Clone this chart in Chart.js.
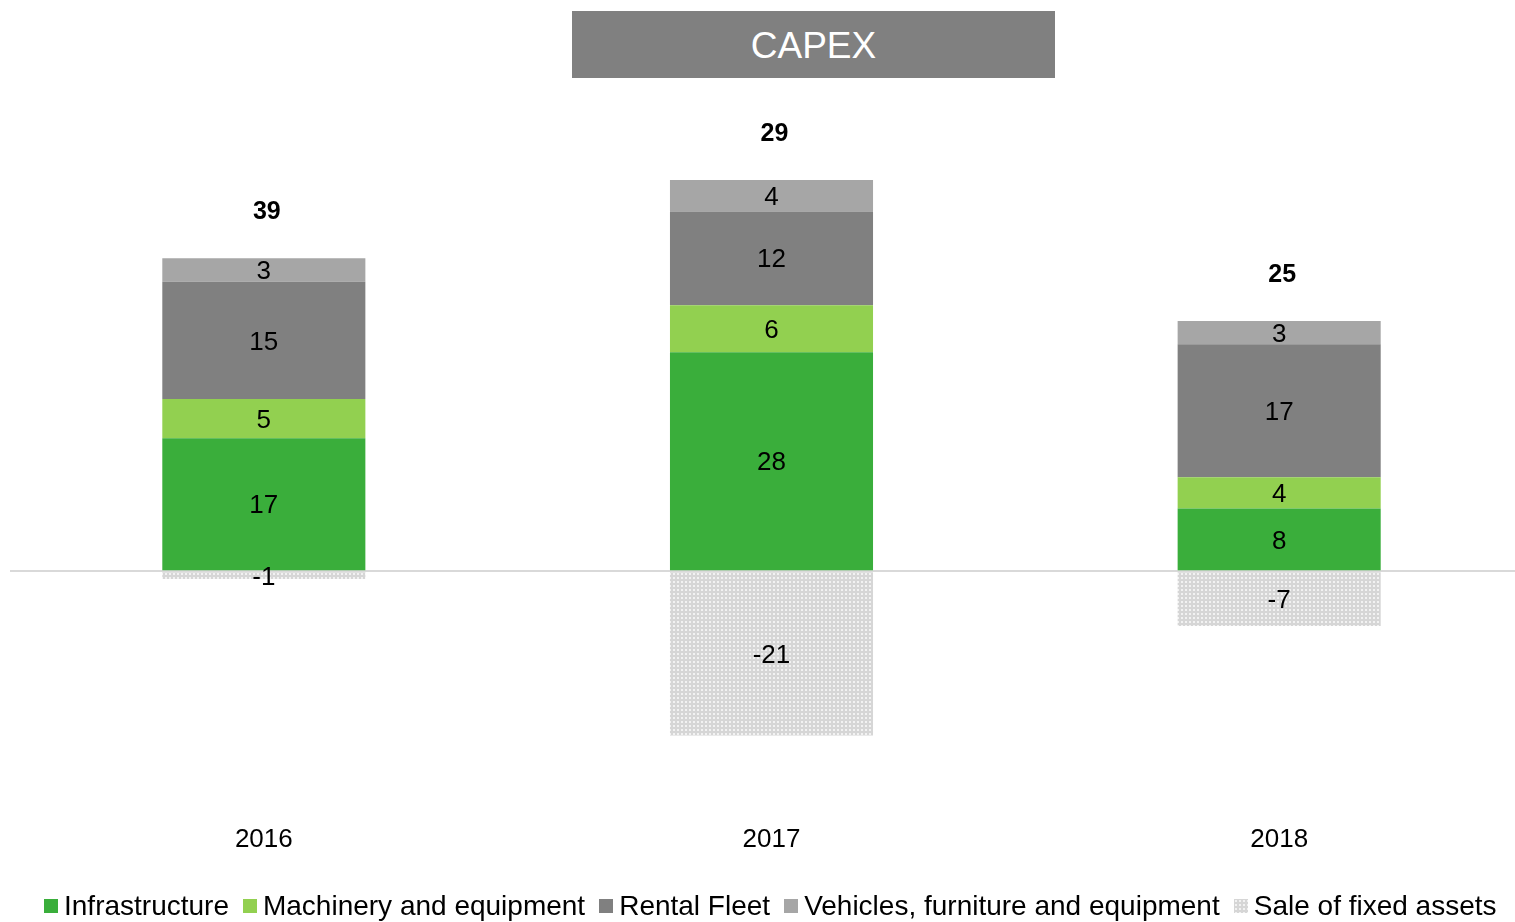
<!DOCTYPE html>
<html>
<head>
<meta charset="utf-8">
<script src="https://cdn.jsdelivr.net/npm/chart.js@4.4.1/dist/chart.umd.min.js"></script>
<style>
    html, body { margin: 0; padding: 0; overflow: hidden; background: #fff; }
    #wrap { position: relative; width: 1535px; height: 922px; }
    #titulo {
        position: absolute; left: 572px; top: 11px; width: 483px; height: 67px;
        background: #808080; color: #fff; font-family: "Liberation Sans", Arial, sans-serif;
        font-size: 37px; line-height: 69px; text-align: center;
    }
    #leyenda {
        position: absolute; left: 44px; top: 891px; height: 30px; white-space: nowrap;
        font-family: "Liberation Sans", Arial, sans-serif; font-size: 28px; line-height: 30px;
        display: flex; align-items: center;
    }
    #leyenda .item { display: flex; align-items: center; margin-right: 14px; }
    #leyenda .caja { width: 14px; height: 14px; margin-right: 6px; }
</style>
</head>
<body>
<div id="wrap">
    <canvas id="myChart" width="1535" height="922"></canvas>
    <div id="titulo">CAPEX</div>
    <div id="leyenda"></div>
</div>
<script>
const years = ['2016', '2017', '2018'];
const infrastructure = [17, 28, 8];
const machinery = [5, 6, 4];
const rentalFleet = [15, 12, 17];
const vehicles = [3, 4, 3];
const saleOfAssets = [-1, -21, -7];
const totals = [39, 29, 25];

const FONT = '"Liberation Sans", Arial, sans-serif';

// patron punteado para "Sale of fixed assets"
const tile = document.createElement('canvas');
tile.width = 4;
tile.height = 4;
const tctx = tile.getContext('2d');
tctx.fillStyle = '#d6d6d6';
tctx.fillRect(0, 0, 4, 4);
tctx.fillStyle = '#f2f2f2';
tctx.fillRect(1, 1, 2, 2);
const dotted = tctx.createPattern(tile, 'repeat');

// etiquetas dentro de cada segmento + totales arriba
const labelsPlugin = {
    id: 'labelsPlugin',
    afterDatasetsDraw(chart) {
        const ctx = chart.ctx;
        ctx.save();
        ctx.textAlign = 'center';
        ctx.textBaseline = 'middle';
        ctx.fillStyle = '#000';
        ctx.font = '26px ' + FONT;
        chart.data.datasets.forEach((ds, i) => {
            const meta = chart.getDatasetMeta(i);
            meta.data.forEach((bar, j) => {
                const yc = (bar.y + bar.base) / 2;
                ctx.fillText(String(ds.data[j]), bar.x, yc + 2);
            });
        });
        // totales
        ctx.font = 'bold 25px ' + FONT;
        totals.forEach((t, j) => {
            let top = Infinity;
            chart.data.datasets.forEach((ds, i) => {
                if (ds.data[j] > 0) {
                    top = Math.min(top, chart.getDatasetMeta(i).data[j].y);
                }
            });
            ctx.fillText(String(t), chart.getDatasetMeta(0).data[j].x + 3, top - 46);
        });
        ctx.restore();
    }
};

const ctx = document.getElementById('myChart').getContext('2d');

const chart = new Chart(ctx, {
    type: 'bar',
    data: {
        labels: years,
        datasets: [
            { label: 'Infrastructure', data: infrastructure, backgroundColor: '#3aae3b' },
            { label: 'Machinery and equipment', data: machinery, backgroundColor: '#92d050' },
            { label: 'Rental Fleet', data: rentalFleet, backgroundColor: '#808080' },
            { label: 'Vehicles, furniture and equipment', data: vehicles, backgroundColor: '#a6a6a6' },
            { label: 'Sale of fixed assets', data: saleOfAssets, backgroundColor: dotted }
        ]
    },
    options: {
        responsive: false,
        animation: false,
        barPercentage: 0.4,
        categoryPercentage: 1,
        layout: {
            padding: { left: 10, right: 2, top: 141, bottom: 57 }
        },
        plugins: {
            legend: { display: false },
            tooltip: { enabled: false }
        },
        scales: {
            x: {
                stacked: true,
                grid: { display: false },
                border: { display: false },
                ticks: {
                    font: { family: FONT, size: 26 },
                    color: '#000',
                    padding: 10
                }
            },
            y: {
                stacked: true,
                min: -30,
                max: 55,
                ticks: { display: false, stepSize: 5 },
                border: { display: false },
                grid: {
                    color: (c) => c.tick && c.tick.value === 0 ? '#d9d9d9' : 'rgba(0,0,0,0)',
                    lineWidth: 2,
                    drawTicks: false
                }
            }
        }
    },
    plugins: [labelsPlugin]
});

// leyenda en HTML (cajas pequeñas pegadas al texto)
const leyenda = document.getElementById('leyenda');
chart.data.datasets.forEach((ds) => {
    const item = document.createElement('div');
    item.className = 'item';
    const caja = document.createElement('span');
    caja.className = 'caja';
    if (ds.backgroundColor === dotted) {
        caja.style.backgroundImage = 'url(' + tile.toDataURL() + ')';
    } else {
        caja.style.background = ds.backgroundColor;
    }
    const txt = document.createElement('span');
    txt.textContent = ds.label;
    item.appendChild(caja);
    item.appendChild(txt);
    leyenda.appendChild(item);
});
</script>
</body>
</html>
